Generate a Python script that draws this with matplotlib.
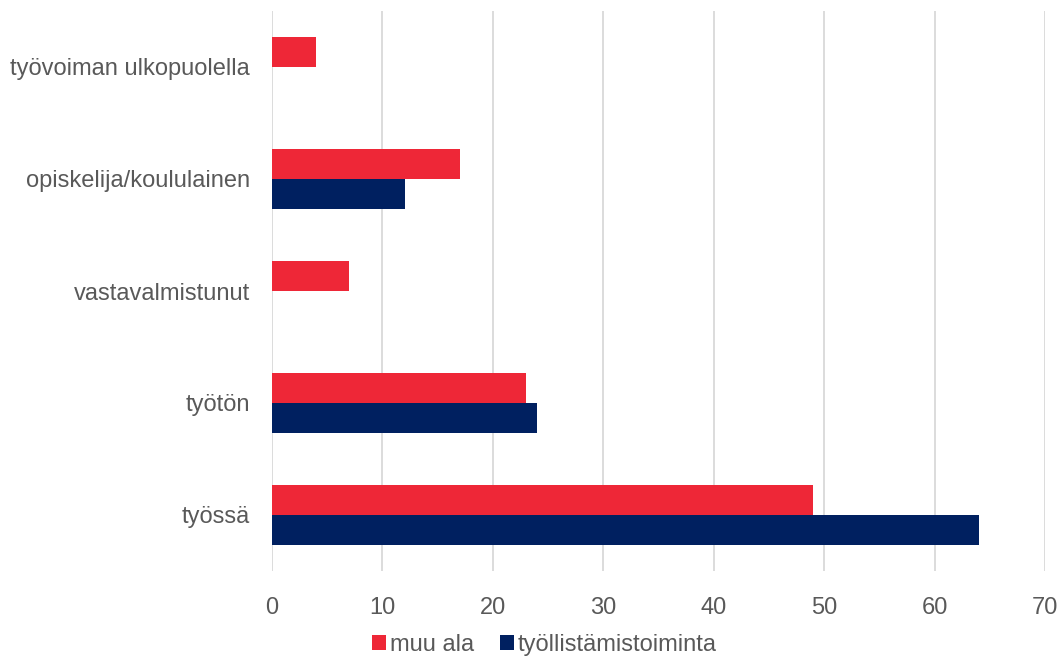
import numpy as np
import matplotlib.pyplot as plt

plt.rcParams['font.family'] = ['Liberation Sans', 'DejaVu Sans']

categories = ["työssä", "työtön", "vastavalmistunut",
              "opiskelija/koululainen", "työvoiman ulkopuolella"]
muu_ala = [49, 23, 7, 17, 4]
tyollistamistoiminta = [64, 24, 0, 12, 0]

RED = "#EE2737"
NAVY = "#002060"
TEXT = "#595959"
GRID = "#D9D9D9"

fig = plt.figure(figsize=(10.61, 6.61), dpi=100)
ax = fig.add_axes([272 / 1061, 1 - 571 / 661, (1045 - 272) / 1061, 560 / 661])

y = np.arange(len(categories))
h = 0.268
ax.barh(y + h / 2, muu_ala, height=h, color=RED, label="muu ala", zorder=3)
ax.barh(y - h / 2, tyollistamistoiminta, height=h, color=NAVY,
        label="työllistämistoiminta", zorder=3)

ax.set_xlim(0, 70)
ax.set_ylim(-0.5, len(categories) - 0.5)
ax.set_xticks(range(0, 71, 10))
ax.set_yticks(y)
ax.set_yticklabels(categories)

ax.grid(True, axis='x', color=GRID, linewidth=1.3, zorder=0)
for s in ax.spines.values():
    s.set_visible(False)
ax.tick_params(axis='both', length=0, labelsize=17, labelcolor=TEXT)
ax.tick_params(axis='y', pad=16)
ax.tick_params(axis='x', pad=19)

fig.legend(loc='lower center', ncol=2, frameon=False, fontsize=17,
           labelcolor=TEXT, handlelength=0.6, handleheight=0.6,
           handletextpad=0.15, columnspacing=1.1,
           bbox_to_anchor=(0.513, -0.024))

fig.savefig("out.png", dpi=100)
